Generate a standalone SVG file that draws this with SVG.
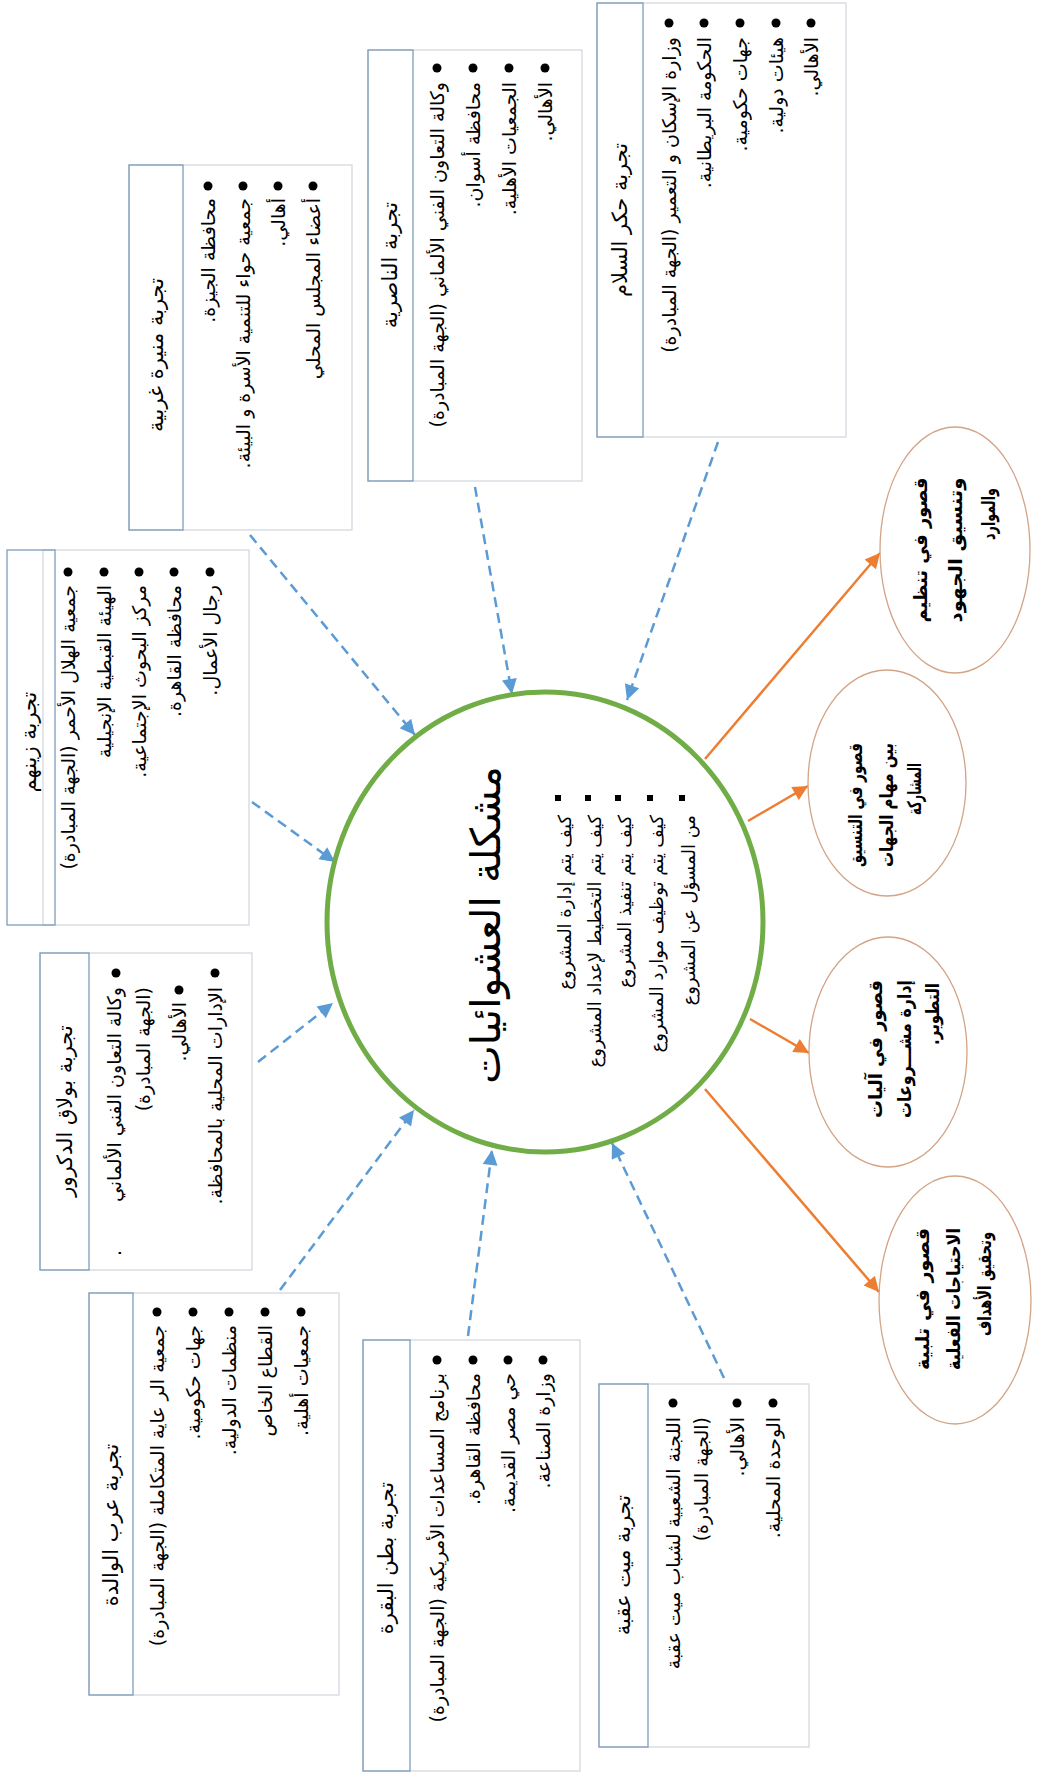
<svg xmlns="http://www.w3.org/2000/svg" width="1037" height="1776" viewBox="0 0 1037 1776">
  <style>
    text { font-family: "DejaVu Sans", sans-serif; fill: #000; dominant-baseline: central; direction: rtl; }
    .hd { font-size: 21px; text-anchor: middle; }
    .it { font-size: 19px; text-anchor: start; }
    .ct { font-size: 18px; text-anchor: start; }
    .ttl { font-size: 41px; text-anchor: middle; }
    .el { font-size: 19px; font-weight: bold; }
    .elm { text-anchor: middle; }
    .els { text-anchor: start; }
    .outer { fill: #fff; stroke: #cfd6dd; stroke-width: 1.2; }
    .head { fill: none; stroke: #7f9dbb; stroke-width: 1.3; }
    .dot { fill: #000; }
    .blue { stroke: #5b9bd5; stroke-width: 2.5; stroke-dasharray: 10 6; fill: none; marker-end: url(#ab); }
    .orange { stroke: #ed7d31; stroke-width: 2.5; fill: none; marker-end: url(#ao); }
    .oval { fill: #fff; stroke: #d3a486; stroke-width: 1.3; }
  </style>
  <defs>
    <marker id="ab" viewBox="0 0 10 10" refX="10" refY="5" markerWidth="17" markerHeight="15" markerUnits="userSpaceOnUse" orient="auto">
      <path d="M0,0 L10,5 L0,10 z" fill="#5b9bd5"/>
    </marker>
    <marker id="ao" viewBox="0 0 10 10" refX="10" refY="5" markerWidth="17" markerHeight="15" markerUnits="userSpaceOnUse" orient="auto">
      <path d="M0,0 L10,5 L0,10 z" fill="#ed7d31"/>
    </marker>
  </defs>
  <rect width="1037" height="1776" fill="#fff"/>

  <!-- connectors -->
  <g id="connectors">
    <line class="blue" x1="718" y1="442" x2="627" y2="700"/>
    <line class="blue" x1="475" y1="487" x2="512" y2="694"/>
    <line class="blue" x1="250" y1="535" x2="415" y2="735"/>
    <line class="blue" x1="252" y1="802" x2="335" y2="862"/>
    <line class="blue" x1="258" y1="1062" x2="333" y2="1003"/>
    <line class="blue" x1="280" y1="1290" x2="414" y2="1110"/>
    <line class="blue" x1="468" y1="1336" x2="492" y2="1150"/>
    <line class="blue" x1="724" y1="1378" x2="612" y2="1143"/>
    <line class="orange" x1="705" y1="759" x2="880" y2="553"/>
    <line class="orange" x1="748" y1="821" x2="808" y2="786"/>
    <line class="orange" x1="750" y1="1019" x2="809" y2="1053"/>
    <line class="orange" x1="705" y1="1089" x2="879" y2="1292"/>
  </g>

  <!-- central problem -->
  <g id="center">
    <ellipse cx="545" cy="922" rx="218" ry="230" fill="#fff" stroke="#70ad47" stroke-width="5"/>
    <text class="ttl" x="486" y="925" transform="rotate(-90 486 925)">مشكلة العشوائيات</text>
    <rect class="dot" x="555" y="795" width="6" height="6"/>
    <rect class="dot" x="585" y="795" width="6" height="6"/>
    <rect class="dot" x="615" y="795" width="6" height="6"/>
    <rect class="dot" x="647" y="795" width="6" height="6"/>
    <rect class="dot" x="679" y="795" width="6" height="6"/>
    <text class="ct" x="564" y="815" transform="rotate(-90 564 815)">كيف يتم إدارة المشروع</text>
    <text class="ct" x="594" y="815" transform="rotate(-90 594 815)">كيف يتم التخطيط لإعداد المشروع</text>
    <text class="ct" x="624" y="815" transform="rotate(-90 624 815)">كيف يتم تنفيذ المشروع</text>
    <text class="ct" x="656" y="815" transform="rotate(-90 656 815)">كيف يتم توظيف موارد المشروع</text>
    <text class="ct" x="688" y="815" transform="rotate(-90 688 815)">من المسؤل عن المشروع</text>
  </g>

  <!-- experience boxes -->
  <g id="box-hekr-elsalam">
    <rect class="outer" x="597" y="3" width="249" height="434"/>
    <rect class="head" x="597" y="3" width="46" height="434"/>
    <text class="hd" x="620" y="220" transform="rotate(-90 620 220)">تجربة حكر السلام</text>
    <circle class="dot" cx="669" cy="23" r="4.5"/>
    <circle class="dot" cx="704" cy="23" r="4.5"/>
    <circle class="dot" cx="740" cy="23" r="4.5"/>
    <circle class="dot" cx="776" cy="23" r="4.5"/>
    <circle class="dot" cx="811" cy="23" r="4.5"/>
    <text class="it" x="669" y="37" transform="rotate(-90 669 37)">وزارة الإسكان و التعمير (الجهة المبادرة)</text>
    <text class="it" x="704" y="37" transform="rotate(-90 704 37)">الحكومة البريطانية.</text>
    <text class="it" x="740" y="37" transform="rotate(-90 740 37)">جهات حكومية.</text>
    <text class="it" x="776" y="37" transform="rotate(-90 776 37)">هيئات دولية.</text>
    <text class="it" x="811" y="37" transform="rotate(-90 811 37)">الأهالي.</text>
  </g>

  <g id="box-nasriya">
    <rect class="outer" x="368" y="50" width="214" height="431"/>
    <rect class="head" x="368" y="50" width="45" height="431"/>
    <text class="hd" x="390" y="265" transform="rotate(-90 390 265)">تجربة الناصرية</text>
    <circle class="dot" cx="437" cy="68" r="4.5"/>
    <circle class="dot" cx="473" cy="68" r="4.5"/>
    <circle class="dot" cx="509" cy="68" r="4.5"/>
    <circle class="dot" cx="545" cy="68" r="4.5"/>
    <text class="it" x="437" y="82" transform="rotate(-90 437 82)">وكالة التعاون الفني الألماني (الجهة المبادرة)</text>
    <text class="it" x="473" y="82" transform="rotate(-90 473 82)">محافظة أسوان.</text>
    <text class="it" x="509" y="82" transform="rotate(-90 509 82)">الجمعيات الأهلية.</text>
    <text class="it" x="545" y="82" transform="rotate(-90 545 82)">الأهالي.</text>
  </g>

  <g id="box-mounira-gharbiya">
    <rect class="outer" x="129" y="165" width="223" height="365"/>
    <rect class="head" x="129" y="165" width="54" height="365"/>
    <text class="hd" x="156" y="355" transform="rotate(-90 156 355)">تجربة منيرة غربية</text>
    <circle class="dot" cx="208" cy="186" r="4.5"/>
    <circle class="dot" cx="243" cy="186" r="4.5"/>
    <circle class="dot" cx="278" cy="186" r="4.5"/>
    <circle class="dot" cx="313" cy="186" r="4.5"/>
    <text class="it" x="208" y="198" transform="rotate(-90 208 198)">محافظة الجيزة.</text>
    <text class="it" x="243" y="198" transform="rotate(-90 243 198)">جمعية حواء للتنمية الأسرة و البيئة.</text>
    <text class="it" x="278" y="198" transform="rotate(-90 278 198)">أهالي.</text>
    <text class="it" x="313" y="198" transform="rotate(-90 313 198)">أعضاء المجلس المحلي</text>
  </g>

  <g id="box-zeinhom">
    <rect class="outer" x="43" y="550" width="206" height="375"/>
    <rect class="head" x="7" y="550" width="48" height="375"/>
    <text class="hd" x="29" y="742" transform="rotate(-90 29 742)">تجربة زينهم</text>
    <circle class="dot" cx="68" cy="572" r="4.5"/>
    <circle class="dot" cx="104" cy="572" r="4.5"/>
    <circle class="dot" cx="139" cy="572" r="4.5"/>
    <circle class="dot" cx="174" cy="572" r="4.5"/>
    <circle class="dot" cx="210" cy="572" r="4.5"/>
    <text class="it" x="68" y="585" transform="rotate(-90 68 585)">جمعية الهلال الأحمر (الجهة المبادرة)</text>
    <text class="it" x="104" y="585" transform="rotate(-90 104 585)">الهيئة القبطية الإنجيلية</text>
    <text class="it" x="139" y="585" transform="rotate(-90 139 585)">مركز البحوث الإجتماعية.</text>
    <text class="it" x="174" y="585" transform="rotate(-90 174 585)">محافظة القاهرة.</text>
    <text class="it" x="210" y="585" transform="rotate(-90 210 585)">رجال الأعمال.</text>
  </g>

  <g id="box-boulaq-eldakrour">
    <rect class="outer" x="40" y="953" width="212" height="317"/>
    <rect class="head" x="40" y="953" width="49" height="317"/>
    <text class="hd" x="65" y="1111" transform="rotate(-90 65 1111)">تجربة بولاق الدكرور</text>
    <circle class="dot" cx="116" cy="973" r="4.5"/>
    <circle class="dot" cx="179" cy="990" r="4.5"/>
    <circle class="dot" cx="215" cy="973" r="4.5"/>
    <text class="it" x="114" y="987" transform="rotate(-90 114 987)">وكالة التعاون الفني الألماني</text>
    <text class="it" x="114" y="1250" transform="rotate(-90 114 1250)">.</text>
    <text class="it" x="143" y="987" transform="rotate(-90 143 987)">(الجهة المبادرة)</text>
    <text class="it" x="179" y="1002" transform="rotate(-90 179 1002)">الأهالي.</text>
    <text class="it" x="215" y="987" transform="rotate(-90 215 987)">الإدارات المحلية بالمحافظة.</text>
  </g>

  <g id="box-arab-elwalda">
    <rect class="outer" x="89" y="1293" width="250" height="402"/>
    <rect class="head" x="89" y="1293" width="44" height="402"/>
    <text class="hd" x="111" y="1525" transform="rotate(-90 111 1525)">تجربة عرب الوالدة</text>
    <circle class="dot" cx="157" cy="1312" r="4.5"/>
    <circle class="dot" cx="193" cy="1312" r="4.5"/>
    <circle class="dot" cx="229" cy="1312" r="4.5"/>
    <circle class="dot" cx="265" cy="1312" r="4.5"/>
    <circle class="dot" cx="301" cy="1312" r="4.5"/>
    <text class="it" x="157" y="1325" transform="rotate(-90 157 1325)">جمعية الر عاية المتكاملة (الجهة المبادرة)</text>
    <text class="it" x="193" y="1325" transform="rotate(-90 193 1325)">جهات حكومية.</text>
    <text class="it" x="229" y="1325" transform="rotate(-90 229 1325)">منظمات الدولية.</text>
    <text class="it" x="265" y="1325" transform="rotate(-90 265 1325)">القطاع الخاص</text>
    <text class="it" x="301" y="1325" transform="rotate(-90 301 1325)">جمعيات أهلية.</text>
  </g>

  <g id="box-batn-elbaqara">
    <rect class="outer" x="363" y="1340" width="217" height="431"/>
    <rect class="head" x="363" y="1340" width="47" height="431"/>
    <text class="hd" x="386" y="1558" transform="rotate(-90 386 1558)">تجربة بطن البقرة</text>
    <circle class="dot" cx="437" cy="1360" r="4.5"/>
    <circle class="dot" cx="473" cy="1360" r="4.5"/>
    <circle class="dot" cx="508" cy="1360" r="4.5"/>
    <circle class="dot" cx="543" cy="1360" r="4.5"/>
    <text class="it" x="437" y="1373" transform="rotate(-90 437 1373)">برنامج المساعدات الأمريكية (الجهة المبادرة)</text>
    <text class="it" x="473" y="1373" transform="rotate(-90 473 1373)">محافظة القاهرة.</text>
    <text class="it" x="508" y="1373" transform="rotate(-90 508 1373)">حي مصر القديمة.</text>
    <text class="it" x="543" y="1373" transform="rotate(-90 543 1373)">وزارة الصناعة.</text>
  </g>

  <g id="box-mit-oqba">
    <rect class="outer" x="599" y="1384" width="210" height="363"/>
    <rect class="head" x="599" y="1384" width="49" height="363"/>
    <text class="hd" x="623" y="1565" transform="rotate(-90 623 1565)">تجربة ميت عقبة</text>
    <circle class="dot" cx="673" cy="1403" r="4.5"/>
    <circle class="dot" cx="737" cy="1403" r="4.5"/>
    <circle class="dot" cx="773" cy="1403" r="4.5"/>
    <text class="it" x="673" y="1417" transform="rotate(-90 673 1417)">اللجنة الشعبية لشباب ميت عقبة</text>
    <text class="it" x="701" y="1417" transform="rotate(-90 701 1417)">(الجهة المبادرة)</text>
    <text class="it" x="737" y="1417" transform="rotate(-90 737 1417)">الأهالي.</text>
    <text class="it" x="773" y="1417" transform="rotate(-90 773 1417)">الوحدة المحلية.</text>
  </g>

  <!-- shortcomings -->
  <g id="gap-organizing">
    <ellipse class="oval" cx="955" cy="550" rx="75" ry="123"/>
    <text class="el elm" x="920" y="550" transform="rotate(-90 920 550)" textLength="145" lengthAdjust="spacingAndGlyphs">قصور في تنظيم</text>
    <text class="el elm" x="955" y="550" transform="rotate(-90 955 550)" textLength="145" lengthAdjust="spacingAndGlyphs">وتنسيق الجهود</text>
    <text class="el els" x="988" y="488" transform="rotate(-90 988 488)" textLength="52" lengthAdjust="spacingAndGlyphs">والموارد</text>
  </g>
  <g id="gap-coordination">
    <ellipse class="oval" cx="887" cy="783" rx="79" ry="113"/>
    <text class="el elm" x="855" y="805" transform="rotate(-90 855 805)" textLength="124" lengthAdjust="spacingAndGlyphs">قصور في التنسيق</text>
    <text class="el elm" x="886" y="805" transform="rotate(-90 886 805)" textLength="124" lengthAdjust="spacingAndGlyphs">بين مهام الجهات</text>
    <text class="el els" x="914" y="763" transform="rotate(-90 914 763)" textLength="52" lengthAdjust="spacingAndGlyphs">المشاركة</text>
  </g>
  <g id="gap-mechanisms">
    <ellipse class="oval" cx="888" cy="1052" rx="79" ry="115"/>
    <text class="el elm" x="875" y="1049" transform="rotate(-90 875 1049)" textLength="138" lengthAdjust="spacingAndGlyphs">قصور في آليات</text>
    <text class="el elm" x="904" y="1049" transform="rotate(-90 904 1049)" textLength="138" lengthAdjust="spacingAndGlyphs">إدارة مشـــروعات</text>
    <text class="el els" x="932" y="983" transform="rotate(-90 932 983)" textLength="62" lengthAdjust="spacingAndGlyphs">التطوير.</text>
  </g>
  <g id="gap-needs">
    <ellipse class="oval" cx="955" cy="1300" rx="76" ry="124"/>
    <text class="el elm" x="922" y="1299" transform="rotate(-90 922 1299)" textLength="142" lengthAdjust="spacingAndGlyphs">قصور في تلبية</text>
    <text class="el elm" x="953" y="1299" transform="rotate(-90 953 1299)" textLength="142" lengthAdjust="spacingAndGlyphs">الاحتياجات الفعلية</text>
    <text class="el els" x="984" y="1232" transform="rotate(-90 984 1232)" textLength="104" lengthAdjust="spacingAndGlyphs">وتحقيق الأهداف</text>
  </g>
</svg>
